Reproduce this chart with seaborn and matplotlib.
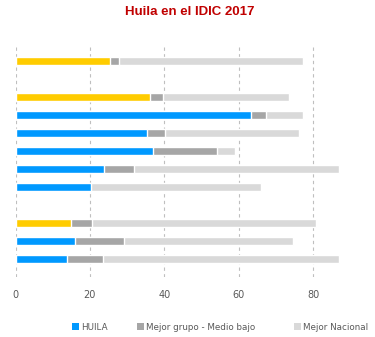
import matplotlib
matplotlib.use("Agg")
import matplotlib.pyplot as plt
from matplotlib.patches import Patch
import pandas as pd
import seaborn as sns

# Row slots from top to bottom; the two "sep" slots stay empty as spacers
order = ["Total", "sep1", "Pilar A", "Pilar A.1", "Pilar A.2", "Pilar A.3",
         "Pilar A.4", "Pilar A.5", "sep2", "Pilar B", "Pilar B.1", "Pilar B.2"]
rows = ["Total", "Pilar A", "Pilar A.1", "Pilar A.2", "Pilar A.3",
        "Pilar A.4", "Pilar A.5", "Pilar B", "Pilar B.1", "Pilar B.2"]
huila = [25.4, 36.2, 63.2, 35.3, 36.9, 23.9, 20.4, 14.9, 15.9, 13.8]
mejor_grupo = [27.8, 39.7, 67.3, 40.3, 54.1, 31.8, 19.0, 20.6, 29.2, 23.5]
mejor_nacional = [77.2, 73.5, 77.2, 76.2, 58.9, 87.0, 66.0, 80.7, 74.5, 87.0]
nivel = ["Agregado", "Agregado", "Detalle", "Detalle", "Detalle", "Detalle",
         "Detalle", "Agregado", "Detalle", "Detalle"]
ticks_x = [0, 20, 40, 60, 80]

df = pd.DataFrame({"fila": rows, "huila": huila, "grupo": mejor_grupo,
                   "nacional": mejor_nacional, "nivel": nivel})

AZUL = "#0099FF"
AMARILLO = "#FFCC00"
GRIS_OSC = "#A6A6A6"
GRIS_CLARO = "#D9D9D9"

sns.set_theme(style="white")
plt.rcParams["font.family"] = ["DejaVu Sans"]

fig = plt.figure(figsize=(3.75, 3.37), dpi=100)
ax = fig.add_axes([15.5 / 375, 1 - 277 / 337, 372 / 375, 233 / 337])

h = 0.45
sns.barplot(data=df, y="fila", x="nacional", order=order, orient="h",
            color=GRIS_CLARO, saturation=1, width=h, ax=ax, zorder=2)
sns.barplot(data=df, y="fila", x="grupo", order=order, orient="h",
            color=GRIS_OSC, saturation=1, width=h, ax=ax, zorder=3)
sns.barplot(data=df, y="fila", x="huila", order=order, orient="h",
            hue="nivel", palette={"Detalle": AZUL, "Agregado": AMARILLO},
            dodge=False, saturation=1, width=h, legend=False, ax=ax, zorder=4)

ax.set_xlim(0, 100)
ax.set_ylim(11 + 1.0, -0.944)
ax.set_xticks(ticks_x)
ax.set_yticks([])
ax.set_xlabel("")
ax.set_ylabel("")
ax.set_axisbelow(True)
ax.grid(axis="x", color="#BFBFBF", linestyle=(0, (3, 3)), linewidth=0.8)
ax.grid(axis="y", visible=False)
for s in ax.spines.values():
    s.set_visible(False)
ax.tick_params(axis="x", length=0, pad=9, labelsize=7, labelcolor="#595959")

fig.text(190 / 375, 1 - 12 / 337, "Huila en el IDIC 2017", ha="center",
         va="center", fontsize=9.5, fontweight="bold", color="#C00000",
         family=["Liberation Sans", "DejaVu Sans"])

# Legend entries laid out along the bottom edge
entradas = [("HUILA", AZUL, 72), ("Mejor grupo - Medio bajo", GRIS_OSC, 137),
            ("Mejor Nacional", GRIS_CLARO, 294)]
for texto, color, xpix in entradas:
    leg = fig.legend(handles=[Patch(facecolor=color, edgecolor="none")],
                     labels=[texto], loc="center left",
                     bbox_to_anchor=(xpix / 375, 1 - 327 / 337),
                     frameon=False, fontsize=6.3, handlelength=0.8,
                     handleheight=0.8, handletextpad=0.2, borderpad=0,
                     borderaxespad=0, labelcolor="#595959")

fig.savefig("out.png", dpi=100)
